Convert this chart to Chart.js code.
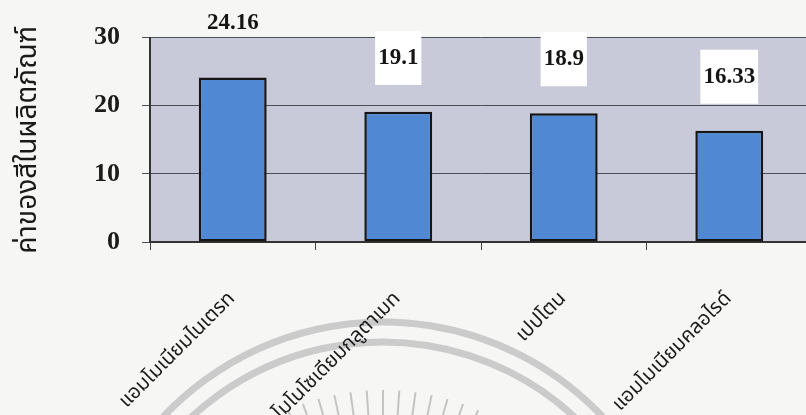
<!DOCTYPE html>
<html>
<head>
<meta charset="utf-8">
<script src="https://cdn.jsdelivr.net/npm/chart.js@4"></script>
<style>
  html, body { margin: 0; padding: 0; background: #f6f6f4; overflow: hidden; }
  #wrap { width: 812px; height: 415px; position: relative; }
</style>
</head>
<body>
<div id="wrap"><canvas id="c"></canvas></div>
<script>
// Nitrogen sources and the colour value measured in the product
const categories = ['แอมโมเนียมไนเตรท', 'โมโนโซเดียมกลูตาเมท', 'เปปโตน', 'แอมโมเนียมคลอไรด์'];
const colourValues = [24.16, 19.1, 18.9, 16.33];
const valueLabels = ['24.16', '19.1', '18.9', '16.33'];
const yTickValues = [0, 10, 20, 30];
const yTitle = 'ค่าของสีในผลิตภัณฑ์';

const thaiFont = "'Noto Sans Thai', 'Noto Sans', 'DejaVu Sans', sans-serif";
const serifFont = "'Liberation Serif', 'Times New Roman', serif";

// faint university seal printed on the page under the chart
const pageSeal = {
  id: 'pageSeal',
  beforeDraw(chart) {
    const ctx = chart.ctx;
    const cx = 383, cy = 624;
    ctx.save();
    ctx.strokeStyle = '#cbcbcb';
    ctx.lineWidth = 7;
    [302, 282].forEach(r => {
      ctx.beginPath();
      ctx.arc(cx, cy, r, Math.PI * 1.05, Math.PI * 1.95);
      ctx.stroke();
    });
    ctx.strokeStyle = '#c4c4c4';
    ctx.lineWidth = 2;
    for (let deg = -32; deg <= 32; deg += 4) {
      const t = (deg - 90) * Math.PI / 180;
      ctx.beginPath();
      ctx.moveTo(cx + Math.cos(t) * 200, cy + Math.sin(t) * 200);
      ctx.lineTo(cx + Math.cos(t) * 234, cy + Math.sin(t) * 234);
      ctx.stroke();
    }
    ctx.restore();
  }
};

// grey-lavender plot background
const plotBackground = {
  id: 'plotBackground',
  beforeDatasetsDraw(chart) {
    const { ctx, chartArea: a } = chart;
    ctx.save();
    ctx.globalCompositeOperation = 'destination-over';
    ctx.fillStyle = '#c9cad9';
    ctx.fillRect(a.left, a.top, a.right - a.left, a.bottom - a.top);
    ctx.restore();
  }
};

// value labels above each bar, on a white box when inside the plot
const valueTags = {
  id: 'valueTags',
  afterDatasetsDraw(chart) {
    const { ctx, chartArea: a } = chart;
    const meta = chart.getDatasetMeta(0);
    ctx.save();
    ctx.font = "bold 23px " + serifFont;
    ctx.textAlign = 'center';
    ctx.textBaseline = 'middle';
    meta.data.forEach((bar, i) => {
      const text = valueLabels[i];
      const x = bar.x;
      const y = bar.y - 54;
      const w = ctx.measureText(text).width + 6;
      const h = 54;
      if (y > a.top) {
        ctx.fillStyle = '#ffffff';
        ctx.fillRect(x - w / 2, y - h / 2, w, h);
      }
      ctx.fillStyle = '#151515';
      ctx.fillText(text, x, y);
    });
    ctx.restore();
  }
};

new Chart(document.getElementById('c'), {
  type: 'bar',
  data: {
    labels: categories,
    datasets: [{
      data: colourValues,
      backgroundColor: '#5088d4',
      borderColor: '#161616',
      borderWidth: 2.5,
      borderSkipped: false,
      categoryPercentage: 1,
      barPercentage: 0.41
    }]
  },
  options: {
    responsive: true,
    maintainAspectRatio: false,
    animation: false,
    layout: { padding: { top: 32, left: 0, right: 0, bottom: 0 } },
    plugins: { legend: { display: false }, tooltip: { enabled: false } },
    scales: {
      x: {
        offset: true,
        grid: { offset: true, drawOnChartArea: false, tickLength: 8, color: '#444', lineWidth: 1 },
        border: { display: true, color: '#333', width: 2 },
        ticks: {
          minRotation: 45, maxRotation: 45, autoSkip: false,
          padding: 38,
          color: '#1a1a1a',
          font: { family: thaiFont, size: 20 }
        },
        afterFit(scale) { scale.height = 173; }
      },
      y: {
        min: 0, max: 30,
        afterBuildTicks(scale) { scale.ticks = yTickValues.map(v => ({ value: v })); },
        grid: { color: '#4d4d55', lineWidth: 1, tickLength: 8 },
        border: { display: true, color: '#333', width: 2 },
        ticks: {
          padding: 22,
          color: '#1c1c1c',
          font: { family: serifFont, size: 26, weight: 'bold' }
        },
        title: {
          display: true, text: yTitle, color: '#1a1a1a',
          font: { family: thaiFont, size: 28 },
          padding: { top: 14, bottom: 0 }
        },
        afterFit(scale) { scale.width = 150; }
      }
    }
  },
  plugins: [pageSeal, plotBackground, valueTags]
});
</script>
</body>
</html>
